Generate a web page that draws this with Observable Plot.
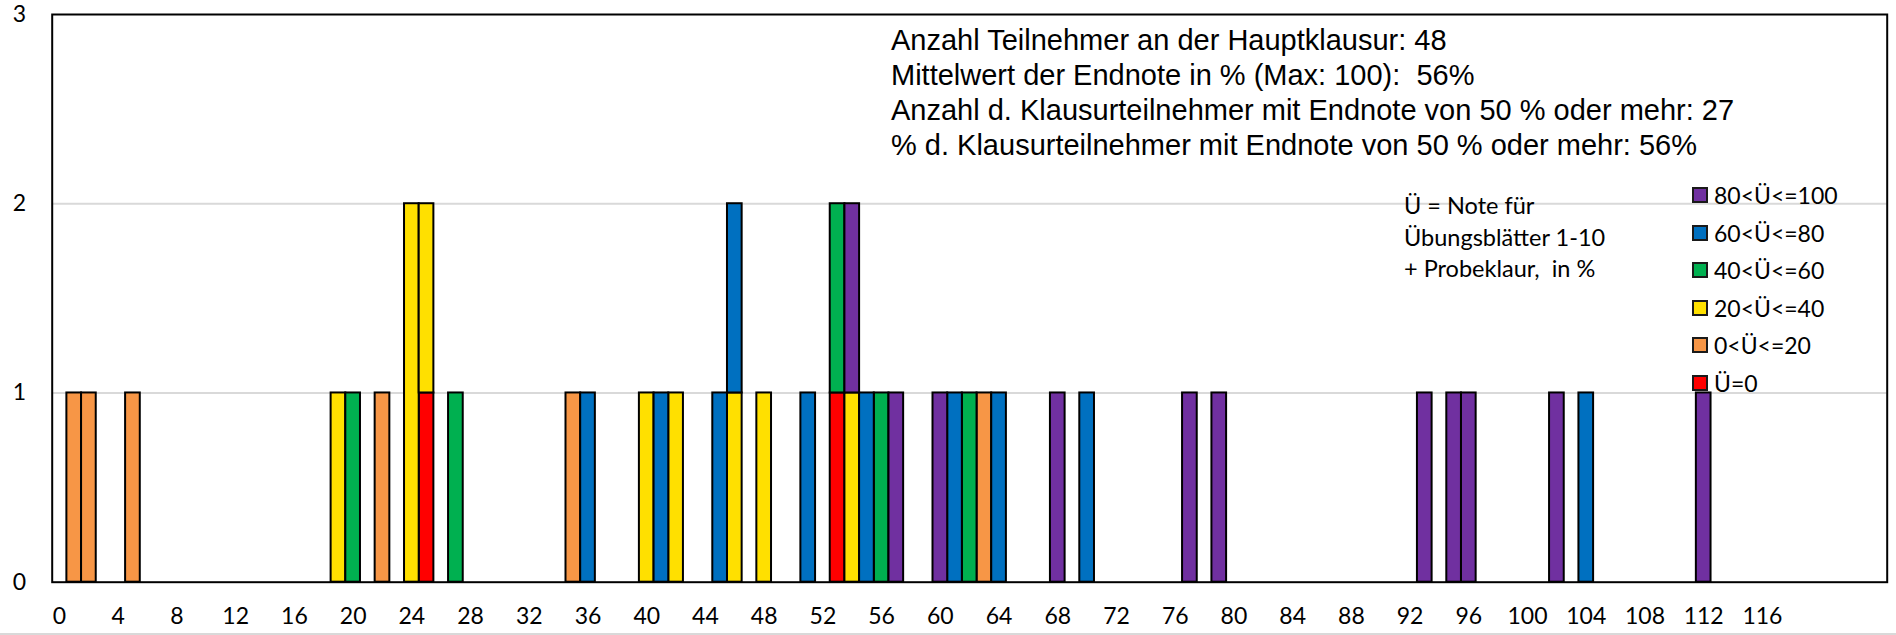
<!DOCTYPE html>
<html>
<head>
<meta charset="utf-8">
<script src="https://cdn.jsdelivr.net/npm/d3@7"></script>
<script src="https://cdn.jsdelivr.net/npm/@observablehq/plot@0.6"></script>
<style>
  html, body { margin: 0; padding: 0; background: white; }
  #wrap { position: relative; width: 1896px; height: 635px; overflow: hidden; background: white; }
  #wrap svg { position: absolute; left: 0; top: 0; }
  .stats { position: absolute; left: 891px; font-family: "Liberation Sans", Arial, sans-serif; font-size: 29px; color: #000; white-space: pre; line-height: 1; }
  .note { position: absolute; left: 1404px; font-family: Lato, "Open Sans", sans-serif; font-size: 23.5px; color: #000; white-space: pre; line-height: 1; }
  .lg { position: absolute; left: 1692px; display: flex; align-items: center; font-family: Lato, "Open Sans", sans-serif; font-size: 23px; color: #000; white-space: pre; }
  .lg .sw { width: 16px; height: 16px; box-sizing: border-box; border: 2px solid #1a1a1a; margin-right: 6px; }
  #bottomline { position: absolute; left: 0; right: 0; bottom: 0; height: 2px; background: #d9d9d9; }
</style>
</head>
<body>
<div id="wrap"></div>
<script>
// ---- data ----
const categories = d3.range(0, 125);
const xTickLabels = [0, 4, 8, 12, 16, 20, 24, 28, 32, 36, 40, 44, 48, 52, 56, 60, 64, 68, 72, 76, 80, 84, 88, 92, 96, 100, 104, 108, 112, 116];
const yTicks = [0, 1, 2, 3];

const seriesNames = ["Ü=0", "0<Ü<=20", "20<Ü<=40", "40<Ü<=60", "60<Ü<=80", "80<Ü<=100"];
const seriesColors = ["#FF0000", "#F79646", "#FFE000", "#00B050", "#0070C0", "#7030A0"];

// [category, count]
const serU0      = [[25, 1], [53, 1]];
const serU0_20   = [[1, 1], [2, 1], [5, 1], [22, 1], [35, 1], [63, 1]];
const serU20_40  = [[19, 1], [24, 2], [25, 1], [40, 1], [42, 1], [46, 1], [48, 1], [54, 1]];
const serU40_60  = [[20, 1], [27, 1], [53, 1], [56, 1], [62, 1]];
const serU60_80  = [[36, 1], [41, 1], [45, 1], [46, 1], [51, 1], [55, 1], [61, 1], [64, 1], [70, 1], [104, 1]];
const serU80_100 = [[54, 1], [57, 1], [60, 1], [68, 1], [77, 1], [79, 1], [93, 1], [95, 1], [96, 1], [102, 1], [112, 1]];

const statsLines = [
  "Anzahl Teilnehmer an der Hauptklausur: 48",
  "Mittelwert der Endnote in % (Max: 100):  56%",
  "Anzahl d. Klausurteilnehmer mit Endnote von 50 % oder mehr: 27",
  "% d. Klausurteilnehmer mit Endnote von 50 % oder mehr: 56%"
];
const noteLines = ["Ü = Note für", "Übungsblätter 1-10", "+ Probeklaur,  in %"];

// ---- build table ----
const allSeries = [serU0, serU0_20, serU20_40, serU40_60, serU60_80, serU80_100];
const rows = [];
allSeries.forEach((s, i) => s.forEach(([cat, v]) => rows.push({cat, series: seriesNames[i], value: v})));

const chart = Plot.plot({
  width: 1896,
  height: 635,
  marginLeft: 51.7,
  marginRight: 9.3,
  marginTop: 14,
  marginBottom: 53.3,
  style: {fontFamily: "Lato, 'Open Sans', sans-serif", fontSize: "23px", color: "#000", background: "white"},
  x: {type: "band", domain: categories, padding: 0, label: null},
  y: {domain: [0, 3], label: null},
  color: {type: "ordinal", domain: seriesNames, range: seriesColors},
  marks: [
    Plot.gridY([1, 2], {stroke: "#d9d9d9", strokeWidth: 2, strokeOpacity: 1}),
    Plot.barY(rows, {x: "cat", y: "value", fill: "series", order: seriesNames, stroke: "#000", strokeWidth: 2}),
    Plot.frame({stroke: "#000", strokeWidth: 2}),
    Plot.axisX({ticks: xTickLabels, tickSize: 0, tickPadding: 25, label: null, fontSize: 23}),
    Plot.axisY({ticks: yTicks, tickFormat: d3.format("d"), tickSize: 0, tickPadding: 26, label: null, fontSize: 23})
  ]
});

const wrap = document.getElementById("wrap");
wrap.appendChild(chart);

statsLines.forEach((t, i) => {
  const d = document.createElement("div");
  d.className = "stats";
  d.textContent = t;
  d.style.top = (53.3 + 35 * i - 27) + "px";
  wrap.appendChild(d);
});
noteLines.forEach((t, i) => {
  const d = document.createElement("div");
  d.className = "note";
  d.textContent = t;
  d.style.top = (213.3 + 31.7 * i - 19.5) + "px";
  wrap.appendChild(d);
});
seriesNames.slice().reverse().forEach((name, i) => {
  const d = document.createElement("div");
  d.className = "lg";
  d.style.top = (195 + 37.5 * i - 14) + "px";
  d.style.height = "28px";
  const sw = document.createElement("div");
  sw.className = "sw";
  sw.style.background = seriesColors[seriesNames.indexOf(name)];
  const tx = document.createElement("span");
  tx.textContent = name;
  d.appendChild(sw);
  d.appendChild(tx);
  wrap.appendChild(d);
});
const bl = document.createElement("div");
bl.id = "bottomline";
wrap.appendChild(bl);
</script>
</body>
</html>
